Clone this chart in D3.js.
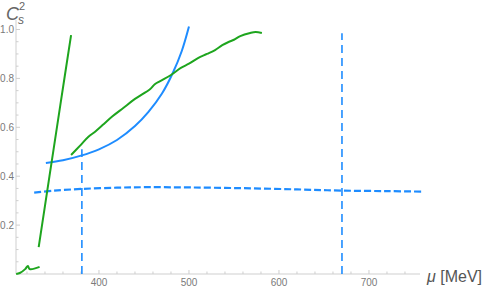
<!DOCTYPE html>
<html>
<head>
<meta charset="utf-8">
<script src="https://cdn.jsdelivr.net/npm/d3@7"></script>
<style>
  body { margin: 0; background: #fff; }
  svg text { font-family: "Liberation Sans", Arial, sans-serif; }
</style>
</head>
<body>
<svg id="chart" width="491" height="289"></svg>
<script>
// data (mu in MeV, Cs^2)
var blueMu = [341, 360, 380, 400, 420, 440, 455, 470, 482, 492, 500];
var blueCs = [0.454, 0.465, 0.484, 0.510, 0.548, 0.605, 0.663, 0.738, 0.822, 0.912, 1.012];

var blueDashMu = [328, 350, 381, 420, 453, 500, 560, 620, 670, 720, 760];
var blueDashCs = [0.333, 0.341, 0.348, 0.353, 0.355, 0.354, 0.351, 0.346, 0.341, 0.339, 0.337];

var vlineMu = [381, 670];
var vlineTop = [0.51, 0.985];

var greenSteepMu = [333, 345, 357, 369];
var greenSteepCs = [0.11, 0.40, 0.69, 0.977];

var greenLowMu = [308, 312, 318, 321, 323, 334];
var greenLowCs = [0.0, 0.004, 0.02, 0.033, 0.02, 0.029];

var greenMu = [369, 379, 388, 396, 404, 415, 427, 440, 457, 462, 468, 480, 491, 500, 510, 520, 529, 537, 544, 550, 557, 568, 574, 581];
var greenCs = [0.487, 0.525, 0.560, 0.583, 0.609, 0.645, 0.679, 0.716, 0.757, 0.776, 0.789, 0.814, 0.843, 0.860, 0.883, 0.900, 0.916, 0.936, 0.949, 0.958, 0.973, 0.986, 0.990, 0.986];

var xTicks = [400, 500, 600, 700];
var yTicks = [0.2, 0.4, 0.6, 0.8, 1.0];

var svg = d3.select("#chart");

var x = d3.scaleLinear().domain([307.8, 756.7]).range([16, 420]);
var y = d3.scaleLinear().domain([0, 1]).range([274, 29.5]);

var axisCol = "#cfcfcf",
    labelCol = "#7a7a7a";

// axes lines
svg.append("line").attr("x1", 16).attr("x2", 420).attr("y1", 274).attr("y2", 274)
    .attr("stroke", axisCol).attr("stroke-width", 1);
svg.append("line").attr("x1", 16).attr("x2", 16).attr("y1", 274).attr("y2", 20)
    .attr("stroke", axisCol).attr("stroke-width", 1);

// x ticks
var xMinor = d3.range(320, 757, 20);
svg.selectAll(".xt").data(xMinor).enter().append("line")
    .attr("x1", d => x(d)).attr("x2", d => x(d))
    .attr("y1", 274).attr("y2", d => xTicks.indexOf(d) >= 0 ? 270 : 271.5)
    .attr("stroke", axisCol);
svg.selectAll(".xl").data(xTicks).enter().append("text")
    .attr("x", d => x(d)).attr("y", 286)
    .attr("text-anchor", "middle").attr("font-size", 10).attr("fill", labelCol)
    .text(d => d);

// y ticks
var yMinor = d3.range(0.05, 1.01, 0.05);
svg.selectAll(".yt").data(yMinor).enter().append("line")
    .attr("x1", 16).attr("x2", d => Math.abs(d * 5 - Math.round(d * 5)) < 0.01 ? 20 : 18.5)
    .attr("y1", d => y(d)).attr("y2", d => y(d))
    .attr("stroke", axisCol);
svg.selectAll(".yl").data(yTicks).enter().append("text")
    .attr("x", 14).attr("y", d => y(d) + 3.5)
    .attr("text-anchor", "end").attr("font-size", 10).attr("fill", labelCol)
    .text(d => d.toFixed(1));

// axis labels
svg.append("text").attr("x", 6).attr("y", 20).attr("fill", "#666")
    .attr("font-size", 18).attr("font-style", "italic").text("C");
svg.append("text").attr("x", 18).attr("y", 24).attr("fill", "#666")
    .attr("font-size", 12).attr("font-style", "italic").text("s");
svg.append("text").attr("x", 19).attr("y", 9.5).attr("fill", "#666")
    .attr("font-size", 11).text("2");

var ml = svg.append("text").attr("x", 427).attr("y", 282).attr("fill", "#555").attr("font-size", 16);
ml.append("tspan").attr("font-style", "italic").text("μ");
ml.append("tspan").text(" [MeV]");

var line = d3.line().x(d => x(d[0])).y(d => y(d[1])).curve(d3.curveCatmullRom);
function pts(a, b) { return a.map((v, i) => [v, b[i]]); }

var blue = "#1e8cff", green = "#1ea51e";

// vertical dashed lines
svg.selectAll(".vl").data(vlineMu).enter().append("line")
    .attr("x1", d => x(d)).attr("x2", d => x(d))
    .attr("y1", 274).attr("y2", (d, i) => y(vlineTop[i]))
    .attr("stroke", blue).attr("stroke-width", 1.6).attr("stroke-dasharray", "8,5");

svg.append("path").attr("d", line(pts(blueDashMu, blueDashCs)))
    .attr("fill", "none").attr("stroke", blue).attr("stroke-width", 2.2)
    .attr("stroke-dasharray", "7,3");

svg.append("path").attr("d", line(pts(blueMu, blueCs)))
    .attr("fill", "none").attr("stroke", blue).attr("stroke-width", 2);

[[greenSteepMu, greenSteepCs], [greenLowMu, greenLowCs], [greenMu, greenCs]].forEach(function (s) {
    svg.append("path").attr("d", line(pts(s[0], s[1])))
        .attr("fill", "none").attr("stroke", green).attr("stroke-width", 2)
        .attr("stroke-linejoin", "round");
});
</script>
</body>
</html>
